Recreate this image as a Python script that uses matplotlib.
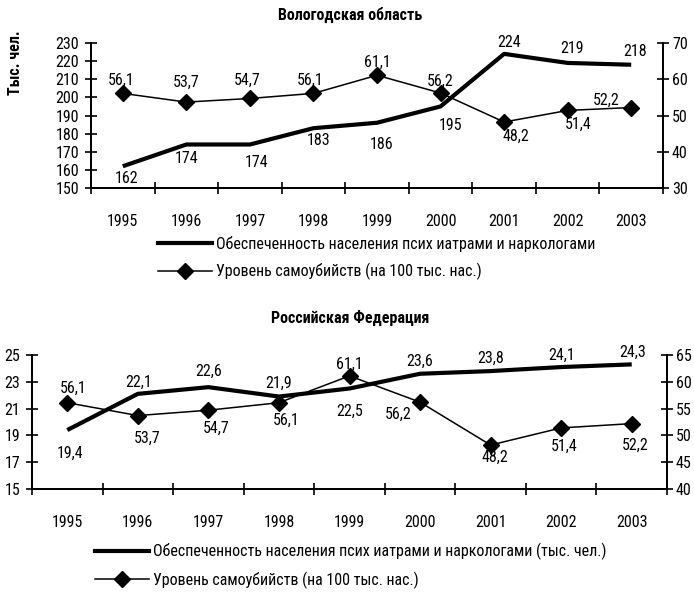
import matplotlib
matplotlib.use('Agg')
import matplotlib.pyplot as plt
from matplotlib.lines import Line2D
from matplotlib.ticker import FixedLocator

plt.rcParams['font.family'] = ['Roboto Condensed', 'PT Sans Narrow', 'Liberation Sans', 'DejaVu Sans']

# ---------------- data ----------------
years = ['1995', '1996', '1997', '1998', '1999', '2000', '2001', '2002', '2003']

vol_support = [162, 174, 174, 183, 186, 195, 224, 219, 218]
vol_suicide = [56.1, 53.7, 54.7, 56.1, 61.1, 56.2, 48.2, 51.4, 52.2]

rf_support = [19.4, 22.1, 22.6, 21.9, 22.5, 23.6, 23.8, 24.1, 24.3]
rf_suicide = [56.1, 53.7, 54.7, 56.1, 61.1, 56.2, 48.2, 51.4, 52.2]

vol_left_ticks = [150, 160, 170, 180, 190, 200, 210, 220, 230]
vol_right_ticks = [30, 40, 50, 60, 70]
rf_left_ticks = [15, 17, 19, 21, 23, 25]
rf_right_ticks = [40, 45, 50, 55, 60, 65]

title_vol = 'Вологодская область'
title_rf = 'Российская Федерация'
ylabel_vol = 'Тыс. чел.'
legend_vol = ['Обеспеченность населения псих иатрами и наркологами',
              'Уровень самоубийств (на 100 тыс. нас.)']
legend_rf = ['Обеспеченность населения псих иатрами и наркологами (тыс. чел.)',
             'Уровень самоубийств (на 100 тыс. нас.)']

# label offsets in pixels (dx, dy)
vol_support_off = [(4, -12), (0, -14), (7, -18), (5, -12), (5, -22), (10, -19), (5, 11), (4, 14), (4, 13)]
vol_suicide_off = [(-2, 13), (0, 20), (-3, 18), (-3, 13), (0, 13), (0, 12), (12, -14), (11, -14), (-25, 7)]
rf_support_off = [(3, -23), (1, 12), (0, 16), (0, 13), (0, -23), (0, 12), (0, 13), (0, 12), (1, 12)]
rf_suicide_off = [(6, 14), (9, -23), (8, -18), (7, -18), (0, 12), (-22, -12), (4, -12), (3, -18), (3, -22)]

FS = 11.5
W, H = 694, 595
fig = plt.figure(figsize=(W / 100, H / 100), dpi=100)


def fmt(v):
    return ('%g' % v).replace('.', ',')


def panel(rect, support, suicide, lticks, rticks, soff, uoff):
    ax = fig.add_axes(rect)
    ax2 = ax.twinx()
    x = list(range(len(years)))
    ax.plot(x, support, color='black', lw=3.0, solid_capstyle='butt', zorder=3)
    ax2.plot(x, suicide, color='black', lw=1.1, marker='D', markersize=8, zorder=3)
    ax.set_xlim(-0.5, len(years) - 0.5)
    ax.set_ylim(lticks[0], lticks[-1])
    ax2.set_ylim(rticks[0], rticks[-1])
    ax.yaxis.set_major_locator(FixedLocator(lticks))
    ax2.yaxis.set_major_locator(FixedLocator(rticks))
    ax.set_xticks(x)
    ax.set_xticklabels(years, fontsize=FS)
    ax.xaxis.set_minor_locator(FixedLocator([i - 0.5 for i in range(len(years) + 1)]))
    ax.tick_params(axis='x', which='major', length=0, pad=19)
    ax.tick_params(axis='x', which='minor', direction='inout', length=9, width=1.2)
    ax.tick_params(axis='y', direction='inout', length=9, width=1.2, labelsize=FS, pad=4)
    ax2.tick_params(axis='y', direction='inout', length=9, width=1.2, labelsize=FS, pad=2)
    for a in (ax, ax2):
        a.spines['top'].set_visible(False)
        for s in ('left', 'right', 'bottom'):
            a.spines[s].set_linewidth(1.3)
    ax.patch.set_visible(False)
    for i, (v, (dx, dy)) in enumerate(zip(support, soff)):
        ax.annotate(fmt(v), (i, v), xytext=(dx, dy), textcoords='offset pixels',
                    ha='center', va='center', fontsize=FS)
    for i, (v, (dx, dy)) in enumerate(zip(suicide, uoff)):
        ax2.annotate(fmt(v), (i, v), xytext=(dx, dy), textcoords='offset pixels',
                     ha='center', va='center', fontsize=FS)
    return ax, ax2


def rect_px(left, right, top, bottom):
    return [left / W, 1 - bottom / H, (right - left) / W, (bottom - top) / H]


ax1, ax1b = panel(rect_px(91, 663, 43, 188), vol_support, vol_suicide,
                  vol_left_ticks, vol_right_ticks, vol_support_off, vol_suicide_off)
ax3, ax3b = panel(rect_px(32, 667, 355, 489), rf_support, rf_suicide,
                  rf_left_ticks, rf_right_ticks, rf_support_off, rf_suicide_off)

fig.text(350 / W, 1 - 15 / H, title_vol, ha='center', va='center', fontsize=FS, fontweight='bold')
fig.text(350 / W, 1 - 318 / H, title_rf, ha='center', va='center', fontsize=FS, fontweight='bold')
fig.text(15 / W, 1 - 63 / H, ylabel_vol, ha='center', va='center', rotation=90,
         fontsize=FS, fontweight='bold')

h_support = Line2D([], [], color='black', lw=3.0)
h_suicide = Line2D([], [], color='black', lw=1.1, marker='D', markersize=8)


def legend(labels, xleft, ymid):
    fig.legend([h_support, h_suicide], labels, loc='center left',
               bbox_to_anchor=(xleft / W, 1 - ymid / H), frameon=False,
               fontsize=FS, handlelength=3.4, handletextpad=0.25, borderpad=0,
               borderaxespad=0, labelspacing=0.7, numpoints=1)


legend(legend_vol, 158, 258)
legend(legend_rf, 95, 566)

fig.savefig('out.png', dpi=100)
